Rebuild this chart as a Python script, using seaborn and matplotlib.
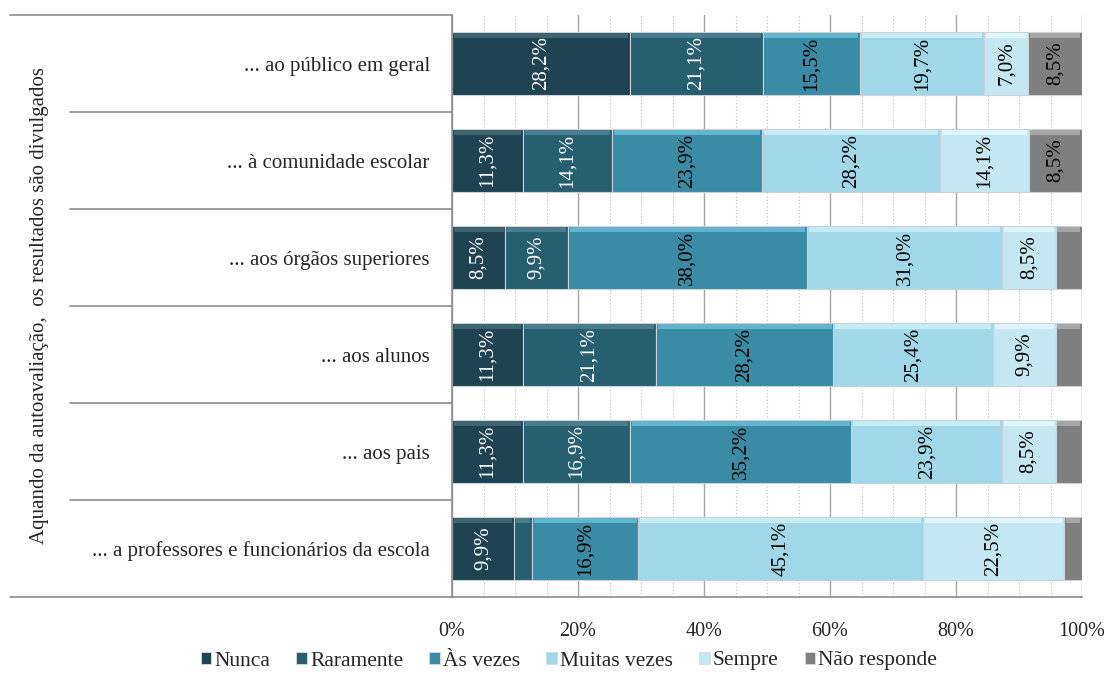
import matplotlib
matplotlib.use("Agg")
import matplotlib.pyplot as plt
import matplotlib.transforms as mtransforms
from matplotlib.lines import Line2D
from matplotlib.patches import Patch
from matplotlib.ticker import MultipleLocator, PercentFormatter
import numpy as np
import pandas as pd
import seaborn as sns

categories = [
    "... ao público em geral",
    "... à comunidade escolar",
    "... aos órgãos superiores",
    "... aos alunos",
    "... aos pais",
    "... a professores e funcionários da escola",
]
series = ["Nunca", "Raramente", "Às vezes", "Muitas vezes", "Sempre", "Não responde"]

nunca = [28.2, 11.3, 8.5, 11.3, 11.3, 9.9]
raramente = [21.1, 14.1, 9.9, 21.1, 16.9, 2.8]
as_vezes = [15.5, 23.9, 38.0, 28.2, 35.2, 16.9]
muitas_vezes = [19.7, 28.2, 31.0, 25.4, 23.9, 45.1]
sempre = [7.0, 14.1, 8.5, 9.9, 8.5, 22.5]
nao_responde = [8.5, 8.5, 4.2, 4.2, 4.2, 2.8]

group_label = "Aquando da autoavaliação,  os resultados são divulgados"

colors = ["#1e4451", "#265f6f", "#3a8ba5", "#a0d8ea", "#c3e8f2", "#7f7f7f"]
highlights = ["#3f6470", "#4a7d8b", "#62b4cc", "#c6ecf6", "#def4fa", "#a6a6a6"]
text_colors = ["white", "white", "black", "black", "black", "black"]

values = np.array([nunca, raramente, as_vezes, muitas_vezes, sempre, nao_responde])
# scale rows to 100 so rounding does not push bars past the edge
shares = values / values.sum(axis=0) * 100
lefts = np.vstack([np.zeros(len(categories)), np.cumsum(shares, axis=0)[:-1]])

FS = 15

sns.set_style("white")
plt.rcParams["font.family"] = ["Liberation Serif", "DejaVu Serif"]

fig = plt.figure(figsize=(11.04, 6.87), dpi=100)
ax = fig.add_axes([452 / 1104, 1 - 597 / 687, 630 / 1104, 582 / 687])

bar_w = 0.64
for i, name in enumerate(series):
    df = pd.DataFrame({"cat": categories, "val": shares[i]})
    sns.barplot(data=df, x="val", y="cat", order=categories, left=lefts[i],
                color=colors[i], saturation=1, width=bar_w,
                edgecolor="#c9d3d8", linewidth=0.8, ax=ax)
    # thin lighter strip on top of each bar for the bevel look
    ax.barh(np.arange(len(categories)) - bar_w / 2 + 0.03, shares[i] - 0.6,
            height=0.05, left=lefts[i] + 0.3, color=highlights[i], linewidth=0)
    for j in range(len(categories)):
        v = values[i, j]
        if v < 5:
            continue
        ax.text(lefts[i, j] + shares[i, j] / 2, j, f"{v:.1f}%".replace(".", ","),
                rotation=90, ha="center", va="center", fontsize=FS,
                color=text_colors[i])

ax.set_xlim(0, 100)
ax.set_ylim(len(categories) - 0.5, -0.5)
ax.xaxis.set_major_locator(MultipleLocator(20))
ax.xaxis.set_minor_locator(MultipleLocator(5))
ax.xaxis.set_major_formatter(PercentFormatter(decimals=0))
ax.grid(axis="x", which="major", color="#a6a6a6", linewidth=1.0, linestyle="-")
ax.grid(axis="x", which="minor", color="#bfbfbf", linewidth=0.8, linestyle=(0, (1, 2)))
ax.set_axisbelow(True)
ax.set_xlabel("")
ax.set_ylabel("")

for side in ["top", "right"]:
    ax.spines[side].set_visible(False)
for side in ["left", "bottom"]:
    ax.spines[side].set_color("#8c8c8c")
    ax.spines[side].set_linewidth(1.2)

ax.tick_params(axis="x", which="major", direction="out", length=7, color="#8c8c8c",
               width=1.2, labelsize=14.5, pad=11)
ax.tick_params(axis="x", which="minor", length=0)
ax.tick_params(axis="y", length=0, labelsize=FS, pad=16)

# table lines in the category area
trans = mtransforms.blended_transform_factory(fig.transFigure, ax.transAxes)
for k in range(len(categories) + 1):
    y = k / len(categories)
    x0 = 10 / 1104 if k in (0, len(categories)) else 70 / 1104
    fig.add_artist(Line2D([x0, 452 / 1104], [y, y], transform=trans,
                          color="#8c8c8c", linewidth=1.2))

fig.text(40 / 1104, 0.5 * (1 - 15 / 687 + 1 - 597 / 687), group_label,
         rotation=90, ha="center", va="center", fontsize=FS)

handles = [Patch(facecolor=c, edgecolor="#d8dde0", linewidth=0.6) for c in colors]
fig.legend(handles, series, loc="center", bbox_to_anchor=(569 / 1104, 1 - 661 / 687),
           ncol=6, frameon=False, fontsize=15.5, handlelength=0.5, handleheight=0.5,
           handletextpad=0.15, columnspacing=1.2, borderpad=0)

fig.savefig("out.png", dpi=100)
